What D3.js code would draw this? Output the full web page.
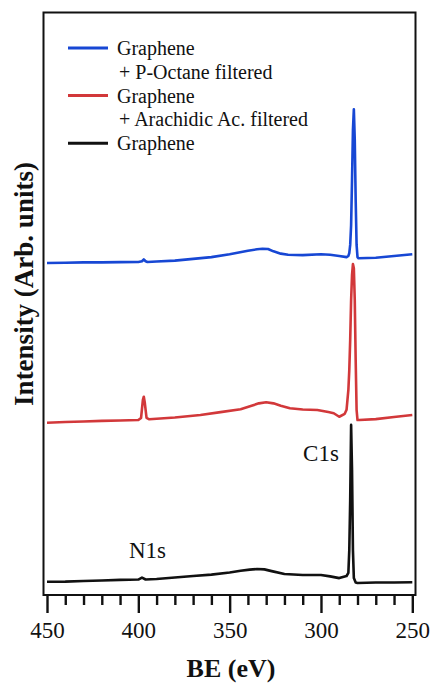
<!DOCTYPE html>
<html>
<head>
<meta charset="utf-8">
<script src="https://cdn.jsdelivr.net/npm/d3@7"></script>
<style>
  body { margin: 0; background: #fff; }
  svg text { font-family: 'Liberation Serif', 'Times New Roman', serif; fill: #111; }
</style>
</head>
<body>
<div id="graf"></div>
<script>
// BE (eV) vs intensity (arb. units, stacked offsets)
const octane = [
  [450, 57.0], [440, 57.05], [430, 57.1], [420, 57.1], [410, 57.15], [400, 57.17],
  [398, 57.3], [397, 57.6], [396, 57.3], [395, 57.17], [390, 57.25], [380, 57.4],
  [370, 57.7], [360, 58.0], [350, 58.5], [345, 58.8], [340, 59.1], [335, 59.35],
  [332, 59.45], [329, 59.4], [326, 59.0], [322, 58.6], [318, 58.4], [310, 58.35],
  [300, 58.5], [295, 58.4], [290, 58.2], [286, 58.0], [285, 58.2], [284.5, 58.7],
  [284, 60.1], [283.5, 63.5], [283, 71.2], [282.5, 79.8], [282, 83.4], [281.5, 78.1],
  [281, 67.8], [280.5, 60.1], [280, 58.0], [279.5, 57.8], [270, 57.9], [260, 58.2],
  [250, 58.5]
]
const arachidic = [
  [450, 29.58], [440, 29.7], [430, 29.79], [420, 29.9], [410, 29.96], [400, 30.04],
  [398.5, 30.4], [397.5, 33.5], [397, 34.04], [396.5, 33.1], [395.5, 30.4], [394, 30.16],
  [380, 30.47], [366, 30.9], [355, 31.4], [344, 31.9], [338, 32.5], [334, 32.9],
  [330, 33.1], [326, 32.9], [322, 32.5], [317, 32.05], [310, 31.85], [302, 31.76],
  [296, 31.4], [293, 31.2], [290, 30.6], [287, 31.1], [286, 31.8], [285.5, 33.5],
  [285, 35.2], [284.5, 38.6], [284, 43.8], [283.5, 50.6], [283, 54.9], [282.5, 56.8],
  [282, 56.1], [281.5, 50.6], [281, 40.3], [280.5, 31.8], [280, 30.04], [279, 30.04],
  [270, 30.2], [260, 30.56], [250, 30.9]
]
const graphene = [
  [450, 2.28], [440, 2.3], [430, 2.4], [420, 2.5], [410, 2.6], [400, 2.65],
  [398, 3.0], [396, 2.66], [390, 2.75], [380, 3.0], [370, 3.26], [360, 3.5],
  [350, 3.86], [344, 4.15], [339, 4.35], [335, 4.46], [331, 4.4], [327, 4.1],
  [320, 3.6], [310, 3.43], [300, 3.43], [295, 3.2], [290, 2.9], [288, 3.1],
  [286, 3.26], [285, 3.8], [284.5, 7.7], [284, 16.3], [283.5, 29.2], [283, 21.5],
  [282.5, 7.7], [282, 2.9], [281, 2.15], [280, 2.06], [270, 2.15], [260, 2.15],
  [250, 2.2]
]

const seriesNames = ['octane', 'arachidic', 'graphene']
const legendLines = [
  ['Graphene', '+ P-Octane filtered'],
  ['Graphene', '+ Arachidic Ac. filtered'],
  ['Graphene']
]
const majorTicks = [450, 400, 350, 300, 250]
const minorTicks = d3.range(440, 250, -10).filter((v) => v % 50 !== 0)
const peakLabels = [
  { text: 'C1s', be: 300, y: 23 },
  { text: 'N1s', be: 395, y: 6.35 }
]

const anchoTotal = 435
const altoTotal = 686
const frame = { left: 43.5, right: 415.5, top: 12.5, bottom: 595 }

const svg = d3.select('#graf')
  .append('svg')
  .attr('width', anchoTotal)
  .attr('height', altoTotal)

const x = d3.scaleLinear().domain([450, 250]).range([47, 412.3])
const y = d3.scaleLinear().domain([0, 100]).range([frame.bottom, frame.top])
const c = d3.scaleOrdinal()
  .domain(seriesNames)
  .range(['#1747d4', '#d2383a', '#111111'])

const datos = { octane, arachidic, graphene }

const generadorLinea = d3.line()
  .x((d) => x(d[0]))
  .y((d) => y(d[1]))

svg.append('g')
  .selectAll('path')
  .data(seriesNames)
  .join('path')
  .attr('d', (s) => generadorLinea(datos[s]))
  .attr('fill', 'none')
  .attr('stroke', (s) => c(s))
  .attr('stroke-width', 2.6)
  .attr('stroke-linejoin', 'round')

// frame
svg.append('rect')
  .attr('x', frame.left)
  .attr('y', frame.top)
  .attr('width', frame.right - frame.left)
  .attr('height', frame.bottom - frame.top)
  .attr('fill', 'none')
  .attr('stroke', '#111')
  .attr('stroke-width', 2)

// bottom axis: major + minor ticks
const xAxis = svg.append('g').attr('transform', `translate(0, ${frame.bottom})`)
xAxis.call(
  d3.axisBottom(x).tickValues(majorTicks).tickSize(18).tickPadding(9).tickFormat(d3.format('d'))
)
xAxis.select('.domain').remove()
xAxis.selectAll('.tick line').attr('stroke', '#111').attr('stroke-width', 2.4)
xAxis.selectAll('.tick text')
  .attr('font-size', 23)
  .attr('fill', '#111')
  .style('font-family', "'Liberation Serif', serif")

const xMinor = svg.append('g').attr('transform', `translate(0, ${frame.bottom})`)
xMinor.call(d3.axisBottom(x).tickValues(minorTicks).tickSize(10).tickFormat(''))
xMinor.select('.domain').remove()
xMinor.selectAll('.tick line').attr('stroke', '#111').attr('stroke-width', 2.4)

// axis titles
svg.append('text')
  .attr('x', 231)
  .attr('y', 677)
  .attr('text-anchor', 'middle')
  .attr('font-size', 26)
  .attr('font-weight', 'bold')
  .text('BE (eV)')

svg.append('text')
  .attr('transform', 'translate(33, 284) rotate(-90)')
  .attr('text-anchor', 'middle')
  .attr('font-size', 27)
  .attr('font-weight', 'bold')
  .text('Intensity (Arb. units)')

// peak labels
svg.append('g')
  .selectAll('text')
  .data(peakLabels)
  .join('text')
  .attr('x', (d) => x(d.be))
  .attr('y', (d) => y(d.y))
  .attr('text-anchor', 'middle')
  .attr('font-size', 23)
  .text((d) => d.text)

// legend
const legend = svg.append('g')
let fila = 0
seriesNames.forEach((s, i) => {
  const top = 48 + fila * 23.8
  legend.append('line')
    .attr('x1', 68).attr('x2', 108)
    .attr('y1', top).attr('y2', top)
    .attr('stroke', c(s))
    .attr('stroke-width', 3)
  legendLines[i].forEach((t, j) => {
    legend.append('text')
      .attr('x', j === 0 ? 117 : 119)
      .attr('y', top + 7 + j * 23.8)
      .attr('font-size', 20)
      .text(t)
  })
  fila += legendLines[i].length
})
</script>
</body>
</html>
